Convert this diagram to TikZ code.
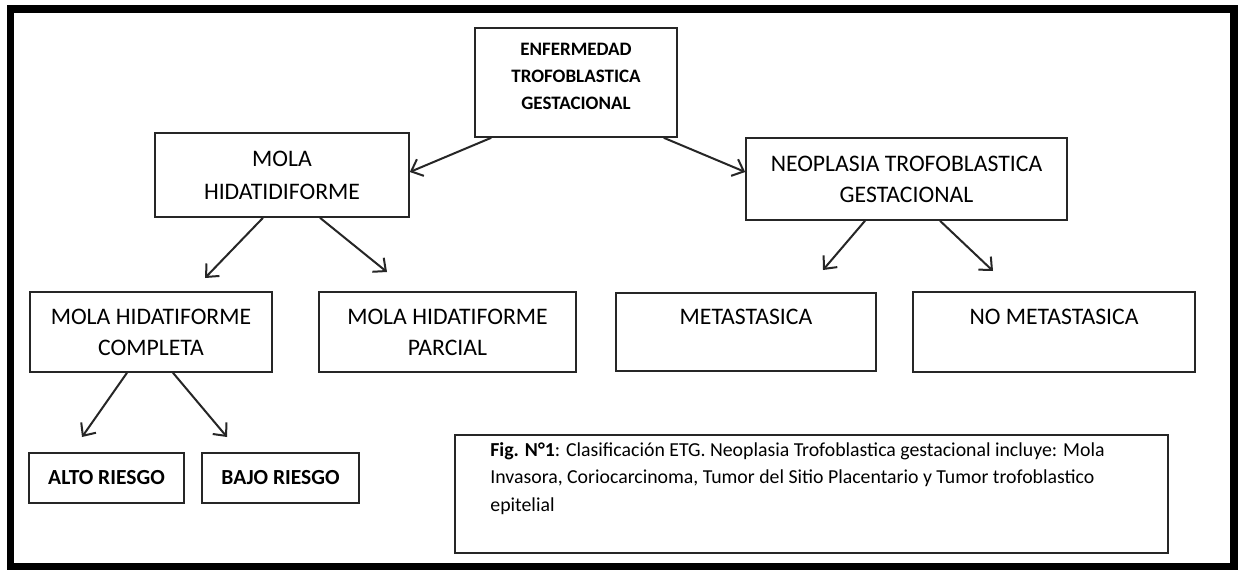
\documentclass[tikz,border=0pt]{standalone}
\usepackage{fontspec}
\setmainfont{Carlito}
\usetikzlibrary{arrows.meta}

\begin{document}
\begin{tikzpicture}[x=1pt,y=-1pt,
  caja/.style={draw=black!85,line width=1.6pt,inner sep=0pt,align=center,font=\fontsize{23.7}{31}\selectfont},
  negrita/.style={font=\bfseries\fontsize{#1}{27}\selectfont},
  flecha/.style={draw=black!85,line width=2pt,-{Straight Barb[length=10pt,width=18pt]}}]
\fill[white] (0,0) rectangle (1245,571);
\useasboundingbox (0,0) rectangle (1245,571);
  % Draw outer frame
  \draw[line width=7.5pt] (10.5,9) rectangle (1234,566.5);
  % Draw boxes
  %1st level
  \node[caja,negrita=19,minimum width=202pt,minimum height=109pt] (etg) at (576,82.5) {ENFERMEDAD\\TROFOBLASTICA\\GESTACIONAL\\[-15pt]\mbox{}};
  %2nd level
  \node[caja,minimum width=254pt,minimum height=84pt,font=\fontsize{23.7}{33}\selectfont] (mola) at (282,175) {MOLA\\HIDATIDIFORME};
  \node[caja,minimum width=321pt,minimum height=82pt] (neo) at (906.5,179) {NEOPLASIA TROFOBLASTICA\\GESTACIONAL};
  %3rd level
  \node[caja,minimum width=242pt,minimum height=80pt] (completa) at (151,332) {MOLA HIDATIFORME\\COMPLETA};
  \node[caja,minimum width=257pt,minimum height=80pt] (parcial) at (447.5,332) {MOLA HIDATIFORME\\PARCIAL};
  \node[caja,minimum width=260pt,minimum height=78pt] (meta) at (746,332) {METASTASICA\\\mbox{}};
  \node[caja,minimum width=282pt,minimum height=80pt] (nometa) at (1054,332) {NO METASTASICA\\\mbox{}};
  %4th level
  \node[caja,negrita=21.5,minimum width=155pt,minimum height=50pt] (alto) at (106.5,478) {ALTO RIESGO};
  \node[caja,negrita=21.5,minimum width=157pt,minimum height=50pt] (bajo) at (280.5,478) {BAJO RIESGO};
  % Draw caption
  \node[caja,minimum width=713pt,minimum height=118pt] (fig) at (811.5,494) {};
  \node[anchor=north west,inner sep=0pt,align=left,font=\fontsize{19.8}{27.5}\selectfont] (figtxt)
    at ([xshift=36pt,yshift=-8pt]fig.north west)
    {\textbf{Fig. N°1}: Clasificación ETG. Neoplasia Trofoblastica gestacional incluye: Mola\\
     Invasora, Coriocarcinoma, Tumor del Sitio Placentario y Tumor trofoblastico\\
     epitelial};
  % Draw arrows
  \draw[flecha] ([xshift=17pt]etg.south west) -- ([yshift=3pt]mola.east);
  \draw[flecha] ([xshift=-14pt]etg.south east) -- ([yshift=7pt]neo.west);
  \coordinate (m1) at (205,278);
  \coordinate (m2) at (387,272);
  \coordinate (n1) at (823,270);
  \coordinate (n2) at (993,271);
  \coordinate (c1) at (82,437);
  \coordinate (c2) at (227,437);
  \foreach \desde/\dx/\hasta in {mola/-19/m1,mola/38/m2,neo/-41.5/n1,neo/33.5/n2,completa/-24/c1,completa/22/c2}
    \draw[flecha] ([xshift=\dx pt]\desde.south) -- (\hasta);
\end{tikzpicture}
\end{document}
